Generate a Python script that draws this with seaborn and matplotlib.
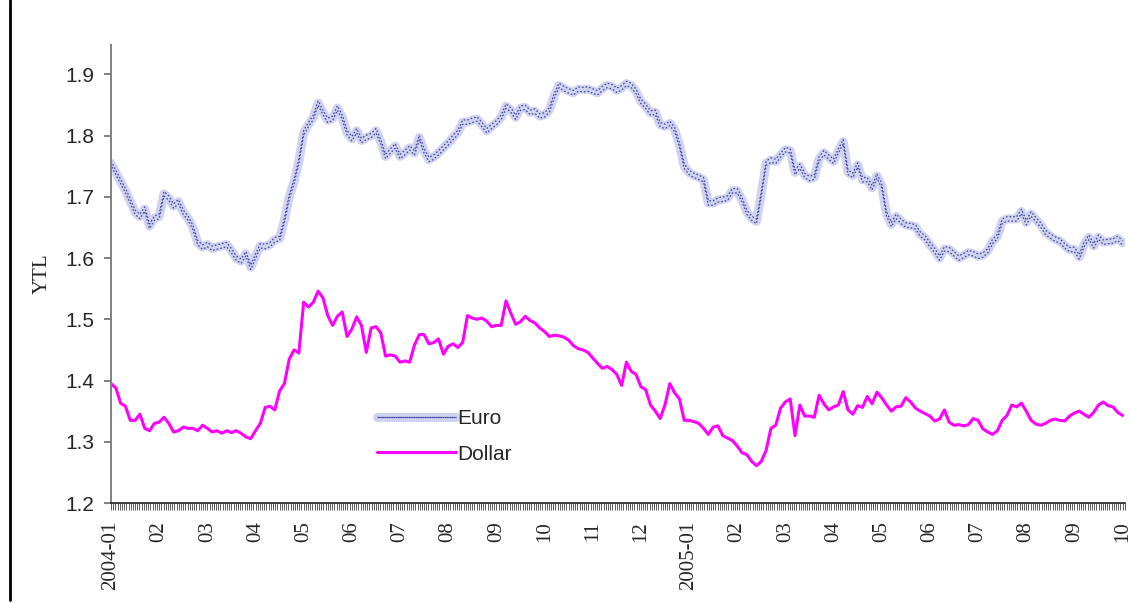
import numpy as np
import pandas as pd
import matplotlib
matplotlib.use("Agg")
import matplotlib.pyplot as plt
import matplotlib.transforms as mtransforms
from matplotlib.lines import Line2D
import seaborn as sns

# month labels on the x axis (one per ~22 trading days)
month_labels = ["2004-01", "02", "03", "04", "05", "06", "07", "08", "09", "10", "11", "12",
                "2005-01", "02", "03", "04", "05", "06", "07", "08", "09", "10"]

# values, 10 readings per month
euro = [1.755, 1.74, 1.725, 1.71, 1.693, 1.675, 1.668, 1.68, 1.652, 1.665,
        1.668, 1.705, 1.698, 1.685, 1.692, 1.675, 1.665, 1.65, 1.625, 1.618,
        1.622, 1.616, 1.618, 1.62, 1.622, 1.612, 1.6, 1.595, 1.607, 1.585,
        1.603, 1.62, 1.619, 1.622, 1.63, 1.632, 1.662, 1.70, 1.725, 1.758,
        1.805, 1.818, 1.83, 1.853, 1.838, 1.825, 1.828, 1.845, 1.83, 1.805,
        1.795, 1.808, 1.792, 1.797, 1.8, 1.808, 1.79, 1.766, 1.775, 1.783,
        1.766, 1.772, 1.78, 1.772, 1.797, 1.775, 1.761, 1.765, 1.772, 1.78,
        1.788, 1.797, 1.805, 1.822, 1.822, 1.825, 1.827, 1.818, 1.808, 1.815,
        1.821, 1.83, 1.848, 1.842, 1.83, 1.845, 1.846, 1.838, 1.84, 1.832,
        1.834, 1.842, 1.865, 1.882, 1.877, 1.873, 1.87, 1.876, 1.875, 1.876,
        1.873, 1.87, 1.877, 1.882, 1.88, 1.874, 1.878, 1.885, 1.882, 1.872,
        1.856, 1.848, 1.837, 1.838, 1.818, 1.815, 1.82, 1.81, 1.785, 1.75,
        1.74, 1.735, 1.732, 1.728, 1.69, 1.69, 1.695, 1.696, 1.698, 1.71,
        1.71, 1.695, 1.675, 1.665, 1.66, 1.705, 1.755, 1.76, 1.758, 1.768,
        1.777, 1.775, 1.74, 1.75, 1.735, 1.73, 1.732, 1.762, 1.772, 1.765,
        1.758, 1.775, 1.79, 1.74, 1.735, 1.752, 1.728, 1.728, 1.715, 1.734,
        1.718, 1.672, 1.655, 1.668, 1.66, 1.654, 1.653, 1.651, 1.639, 1.633,
        1.622, 1.612, 1.6, 1.615, 1.614, 1.607, 1.6, 1.604, 1.609, 1.607,
        1.603, 1.605, 1.612, 1.627, 1.635, 1.66, 1.664, 1.664, 1.664, 1.676,
        1.658, 1.672, 1.663, 1.654, 1.642, 1.636, 1.631, 1.628, 1.62, 1.614,
        1.614, 1.602, 1.622, 1.634, 1.62, 1.634, 1.626, 1.627, 1.628, 1.632, 1.625]

dollar = [1.395, 1.388, 1.363, 1.358, 1.335, 1.335, 1.345, 1.322, 1.318, 1.33,
          1.332, 1.34, 1.33, 1.316, 1.318, 1.324, 1.322, 1.322, 1.318, 1.327,
          1.322, 1.316, 1.318, 1.314, 1.318, 1.315, 1.318, 1.314, 1.308, 1.305,
          1.318, 1.33, 1.356, 1.358, 1.352, 1.383, 1.395, 1.435, 1.45, 1.445,
          1.528, 1.52, 1.528, 1.546, 1.535, 1.506, 1.49, 1.505, 1.512, 1.472,
          1.484, 1.504, 1.49, 1.446, 1.486, 1.488, 1.478, 1.44, 1.442, 1.44,
          1.43, 1.432, 1.43, 1.458, 1.475, 1.475, 1.46, 1.462, 1.468, 1.443,
          1.456, 1.46, 1.454, 1.462, 1.506, 1.502, 1.5, 1.502, 1.497, 1.488,
          1.49, 1.49, 1.53, 1.51, 1.492, 1.496, 1.505, 1.498, 1.494, 1.486,
          1.48, 1.472, 1.474, 1.473, 1.471, 1.466, 1.457, 1.452, 1.45, 1.446,
          1.437, 1.428, 1.42, 1.423, 1.418, 1.41, 1.392, 1.43, 1.415, 1.41,
          1.39, 1.385, 1.36, 1.35, 1.338, 1.36, 1.395, 1.38, 1.37, 1.335,
          1.335, 1.333, 1.33, 1.322, 1.312, 1.324, 1.326, 1.31, 1.306, 1.302,
          1.293, 1.282, 1.279, 1.268, 1.261, 1.268, 1.286, 1.322, 1.327, 1.355,
          1.365, 1.37, 1.31, 1.36, 1.342, 1.342, 1.34, 1.376, 1.362, 1.352,
          1.357, 1.36, 1.382, 1.352, 1.345, 1.359, 1.356, 1.374, 1.362, 1.381,
          1.372, 1.36, 1.35, 1.357, 1.358, 1.372, 1.365, 1.355, 1.35, 1.346,
          1.342, 1.334, 1.337, 1.352, 1.332, 1.327, 1.328, 1.326, 1.328, 1.338,
          1.335, 1.321, 1.316, 1.312, 1.318, 1.335, 1.343, 1.36, 1.357, 1.363,
          1.35, 1.335, 1.329, 1.327, 1.33, 1.335, 1.337, 1.335, 1.334, 1.342,
          1.347, 1.35, 1.345, 1.34, 1.348, 1.36, 1.365, 1.359, 1.357, 1.348, 1.343]

days_per_month = 22
df = pd.DataFrame({"month": np.arange(len(euro)) / 10, "Euro": euro, "Dollar": dollar})

sns.set_style("ticks")
plt.rcParams['font.family'] = ['Liberation Sans', 'DejaVu Sans']

fig = plt.figure(figsize=(11.3, 6.03), dpi=100)
ax = fig.add_axes([111 / 1130, 1 - 503 / 603, 1014 / 1130, 458 / 603])

# Euro: patterned thick band (light base + two staggered rows of navy dots)
sns.lineplot(data=df, x="month", y="Euro", ax=ax, color="#d0d3ef", linewidth=6.5, legend=False)
up = mtransforms.offset_copy(ax.transData, fig=fig, x=0, y=2.2, units='dots')
dn = mtransforms.offset_copy(ax.transData, fig=fig, x=0, y=-2.2, units='dots')
sns.lineplot(data=df, x="month", y="Euro", ax=ax, color="#3a42a0", linewidth=0.9,
             linestyle=(0, (1.3, 1.6)), transform=up, legend=False)
sns.lineplot(data=df, x="month", y="Euro", ax=ax, color="#3a42a0", linewidth=0.9,
             linestyle=(1.45, (1.3, 1.6)), transform=dn, legend=False)
sns.lineplot(data=df, x="month", y="Dollar", ax=ax, color="#ff00ff", linewidth=2.2, legend=False)

ax.set_xlim(0, 21.05)
ax.set_ylim(1.2, 1.948)
ax.set_yticks(np.arange(1.2, 1.95, 0.1))
ax.set_yticklabels([f"{v:.1f}" for v in np.arange(1.2, 1.95, 0.1)], fontsize=15)
ax.set_xticks(np.arange(len(month_labels)))
ax.set_xticklabels(month_labels, rotation=90, family=['Liberation Serif', 'DejaVu Serif'], fontsize=15)
ax.set_xticks(np.arange(0, 21.05, 1 / days_per_month), minor=True)
ax.tick_params(axis='x', which='both', length=5, width=0.6, color='#404040', pad=8)
ax.tick_params(axis='y', length=5, width=1.4, color='#808080', pad=7)

ax.set_xlabel("")
ax.set_ylabel("YTL", family=['Liberation Serif', 'DejaVu Serif'], fontsize=15)
ax.yaxis.set_label_coords(-0.058, 0.5)

sns.despine(ax=ax)
ax.spines['left'].set_color('#808080')
ax.spines['left'].set_linewidth(1.4)
ax.spines['bottom'].set_color('#202020')
ax.spines['bottom'].set_linewidth(1.2)

# legend
lines = ax.get_lines()
euro_handle = (lines[0], lines[1], lines[2])
ax.legend([euro_handle, lines[3]], ["Euro", "Dollar"], loc='upper left',
          bbox_to_anchor=(377 / 1130, 1 - 409 / 603), bbox_transform=fig.transFigure,
          frameon=False, fontsize=15, handlelength=3.8, handletextpad=0.05,
          labelspacing=0.8, borderpad=0, borderaxespad=0)

# black frame line at the left edge
fig.add_artist(Line2D([10 / 1130, 10 / 1130], [1, 1 - 600 / 603], transform=fig.transFigure,
                      color='black', linewidth=2))

fig.savefig("out.png", dpi=100)
